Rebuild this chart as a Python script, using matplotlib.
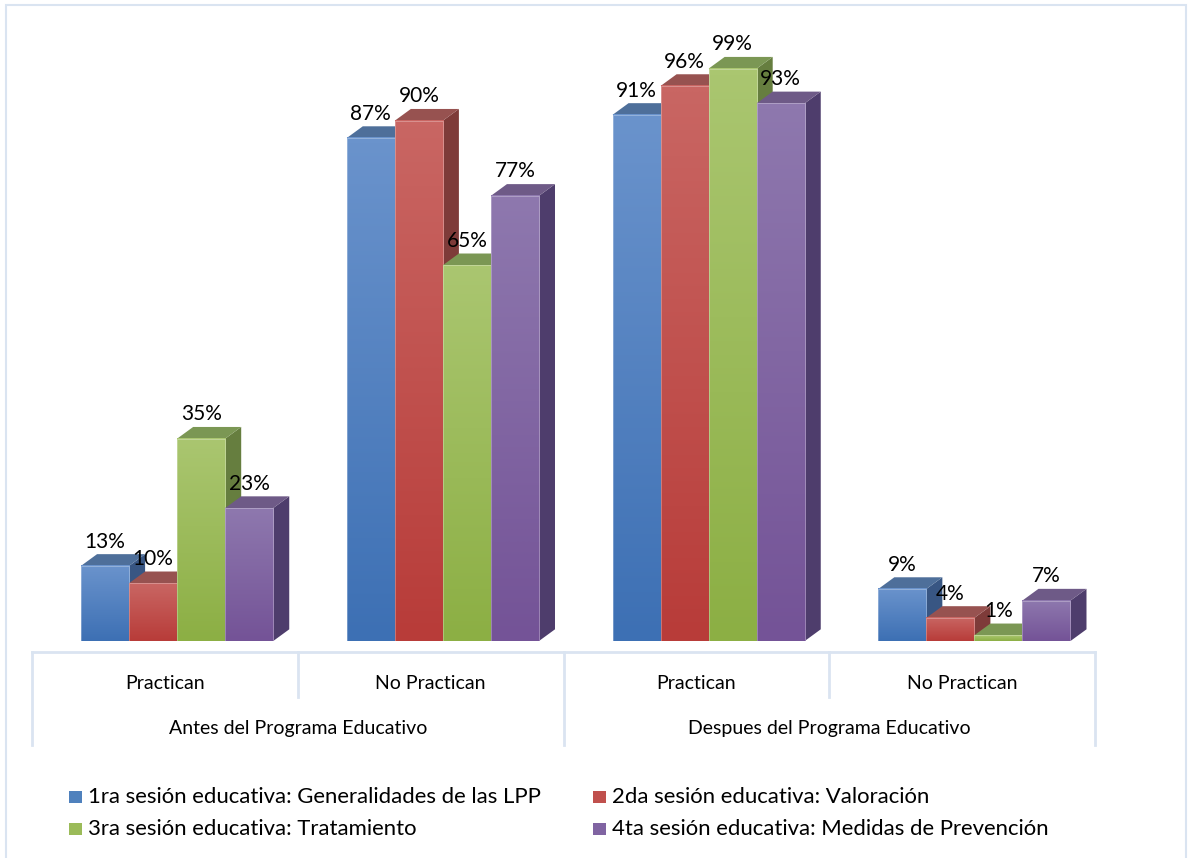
import numpy as np
import matplotlib.pyplot as plt
from matplotlib.colors import LinearSegmentedColormap
from matplotlib.patches import Polygon, Rectangle

plt.rcParams['font.family'] = ['Lato', 'DejaVu Sans']

# data
groups = ['Antes del Programa Educativo', 'Despues del Programa Educativo']
categories = ['Practican', 'No Practican', 'Practican', 'No Practican']
series_names = ['1ra sesión educativa: Generalidades de las LPP',
                '2da sesión educativa: Valoración',
                '3ra sesión educativa: Tratamiento',
                '4ta sesión educativa: Medidas de Prevención']
s1 = [13, 87, 91, 9]
s2 = [10, 90, 96, 4]
s3 = [35, 65, 99, 1]
s4 = [23, 77, 93, 7]
series = [s1, s2, s3, s4]

# colours: front top, front bottom, top face, side face
front_top = ['#6A93CC', '#C96663', '#AAC670', '#8E78AE']
front_bot = ['#3D70B4', '#B83C39', '#8CAF44', '#745397']
top_face = ['#4E6F9A', '#975250', '#7B9754', '#6E5A87']
side_face = ['#385683', '#7E3B39', '#667E3F', '#4E3D6C']
legend_col = ['#4F81BD', '#C0504D', '#9BBB59', '#8064A2']
line_col = '#DAE4F1'

W, H = 1188, 858
fig = plt.figure(figsize=(W / 100, H / 100), dpi=100)
# axes: x spans 4 categories, y baseline at pixel row 641
ax = fig.add_axes([32 / W, (H - 641) / H, (1095 - 32) / W, 636 / H])
ax.set_xlim(0, 4)
ax.set_ylim(0, 110)
ax.axis('off')

bar_w = 0.1808
offset = 0.1846
dx = 0.0602   # depth in data units (~16 px)
dy = 2.02     # depth in data units (~11.7 px)

grad = np.linspace(0, 1, 64).reshape(-1, 1)
z = 2
for i in range(len(categories)):
    for j, vals in enumerate(series):
        v = vals[i]
        x0 = i + offset + j * bar_w
        x1 = x0 + bar_w
        cmap = LinearSegmentedColormap.from_list('g', [front_bot[j], front_top[j]])
        # side face
        ax.add_patch(Polygon([(x1, 0), (x1 + dx, dy), (x1 + dx, v + dy), (x1, v)],
                             closed=True, fc=side_face[j], ec='none', zorder=z))
        # top face
        ax.add_patch(Polygon([(x0, v), (x0 + dx, v + dy), (x1 + dx, v + dy), (x1, v)],
                             closed=True, fc=top_face[j], ec='none', zorder=z + 0.1))
        # front face with gradient
        ax.imshow(grad, extent=[x0, x1, 0, v], origin='lower', cmap=cmap,
                  aspect='auto', interpolation='bilinear', zorder=z + 0.2)
        ax.add_patch(Rectangle((x0, 0), bar_w, v, fc='none', ec='#FFFFFF',
                               lw=0.4, alpha=0.5, zorder=z + 0.3))
        ax.annotate(f'{v}%', (x0 + bar_w / 2, v), xytext=(0, 17.5),
                    textcoords='offset points', ha='center', va='center',
                    fontsize=15, color='black', zorder=50)
        z += 1

ax.set_xlim(0, 4)
ax.set_ylim(0, 110)

# category table below the plot
y_line = -1.9
ax.plot([0, 4], [y_line, y_line], color=line_col, lw=2, clip_on=False)
for xb in [0, 2, 4]:
    ax.plot([xb, xb], [y_line, -18.0], color=line_col, lw=2, clip_on=False)
for xb in [1, 3]:
    ax.plot([xb, xb], [y_line, -9.7], color=line_col, lw=2, clip_on=False)
for i, c in enumerate(categories):
    ax.text(i + 0.5, -7.27, c, ha='center', va='center', fontsize=14, clip_on=False)
for g, name in enumerate(groups):
    ax.text(2 * g + 1, -15.2, name, ha='center', va='center', fontsize=14, clip_on=False)

# legend
legend_pos = [(69, 797), (593, 797), (69, 829), (593, 829)]
for k, (lx, ly) in enumerate(legend_pos):
    fig.add_artist(Rectangle((lx / W, (H - ly - 6) / H), 13 / W, 12 / H,
                             transform=fig.transFigure, fc=legend_col[k], ec='none'))
    fig.text((lx + 19) / W, (H - ly) / H, series_names[k], ha='left', va='center',
             fontsize=15.9)

# outer border (bottom edge falls off the canvas)
fig.add_artist(Rectangle((6 / W, -5 / H), 1180 / W, 858 / H, transform=fig.transFigure,
                         fc='none', ec=line_col, lw=1.5))

fig.savefig('out.png', dpi=100)
